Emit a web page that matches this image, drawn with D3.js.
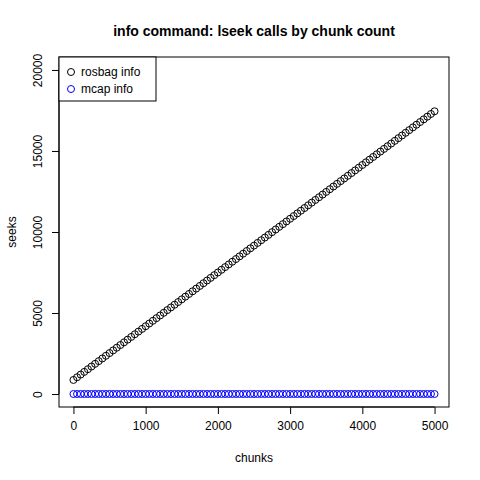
<!DOCTYPE html>
<html><head><meta charset="utf-8">
<script src="https://cdn.jsdelivr.net/npm/d3@7"></script>
<style>body{margin:0;background:#fff}text{font-family:"Liberation Sans",Arial,sans-serif}</style>
</head><body><svg id="canvas" width="480" height="480"></svg>
<script>
// chunk counts sampled every 50 chunks
const chunks = d3.range(0, 5001, 50);
// rosbag info seeks
const rosbagSeeks = [870,1036,1202,1367,1533,1699,1865,2031,2196,2362,2528,2694,2860,3025,3191,3357,3523,3689,3854,4020,4186,4352,4518,4683,4849,5015,5181,5347,5512,5678,5844,6010,6176,6341,6507,6673,6839,7005,7170,7336,7502,7668,7834,7999,8165,8331,8497,8663,8828,8994,9160,9326,9492,9657,9823,9989,10155,10321,10486,10652,10818,10984,11150,11315,11481,11647,11813,11979,12144,12310,12476,12642,12808,12973,13139,13305,13471,13637,13802,13968,14134,14300,14466,14631,14797,14963,15129,15295,15460,15626,15792,15958,16124,16289,16455,16621,16787,16953,17118,17284,17450];
// mcap info seeks stay flat near zero
const mcapSeeks = chunks.map(() => 3);
const xTicks = [0,1000,2000,3000,4000,5000];
const yTicks = [0,5000,10000,15000,20000];

let canvas = d3.select('#canvas');
let pLeft = 59, pRight = 449, pTop = 57, pBottom = 407;

let x = d3.scaleLinear().domain([-200, 5200]).range([pLeft, pRight]);
let y = d3.scaleLinear().domain([-800, 20800]).range([pBottom, pTop]);

canvas.append('rect').attr('x', pLeft).attr('y', pTop)
    .attr('width', pRight - pLeft).attr('height', pBottom - pTop)
    .attr('fill', 'none').attr('stroke', '#000');

// x axis
let xa = canvas.append('g').attr('transform', `translate(0,${pBottom})`)
    .call(d3.axisBottom(x).tickValues(xTicks).tickSize(7).tickSizeOuter(0).tickFormat(d3.format('d')));
xa.select('.domain').attr('d', `M${x(0)},0H${x(5000)}`);
xa.selectAll('text').attr('font-size', 12).attr('dy', '1.1em');

// y axis, labels rotated like R
let ya = canvas.append('g').attr('transform', `translate(${pLeft},0)`)
    .call(d3.axisLeft(y).tickValues(yTicks).tickSize(7).tickSizeOuter(0).tickFormat(d3.format('d')));
ya.select('.domain').attr('d', `M0,${y(0)}V${y(20000)}`);
ya.selectAll('text').attr('font-size', 12).attr('text-anchor', 'middle')
    .attr('x', 0).attr('dy', 0)
    .attr('transform', 'translate(-17,0) rotate(-90)');

let plot = (vals, col) => {
    canvas.append('g').selectAll('circle')
        .data(chunks.map((c, i) => [c, vals[i]]))
        .enter().append('circle')
        .attr('cx', d => x(d[0])).attr('cy', d => y(d[1])).attr('r', 3.5)
        .attr('fill', 'none').attr('stroke', col).attr('stroke-width', 1);
};
plot(rosbagSeeks, '#000');
plot(mcapSeeks, '#0000ff');

canvas.append('text').attr('x', 254).attr('y', 36).attr('text-anchor', 'middle')
    .attr('font-size', 14).attr('font-weight', 'bold').text('info command: lseek calls by chunk count');
canvas.append('text').attr('x', 254).attr('y', 462).attr('text-anchor', 'middle')
    .attr('font-size', 12).text('chunks');
canvas.append('text').attr('transform', 'translate(16,232) rotate(-90)').attr('text-anchor', 'middle')
    .attr('font-size', 12).text('seeks');

// legend
let lg = canvas.append('g');
lg.append('rect').attr('x', pLeft).attr('y', pTop).attr('width', 97).attr('height', 44)
    .attr('fill', '#fff').attr('stroke', '#000');
[['rosbag info', '#000'], ['mcap info', '#0000ff']].forEach((d, i) => {
    lg.append('circle').attr('cx', 71).attr('cy', 72 + i * 17).attr('r', 3.5)
        .attr('fill', 'none').attr('stroke', d[1]);
    lg.append('text').attr('x', 81).attr('y', 76 + i * 17).attr('font-size', 12).text(d[0]);
});
</script></body></html>
